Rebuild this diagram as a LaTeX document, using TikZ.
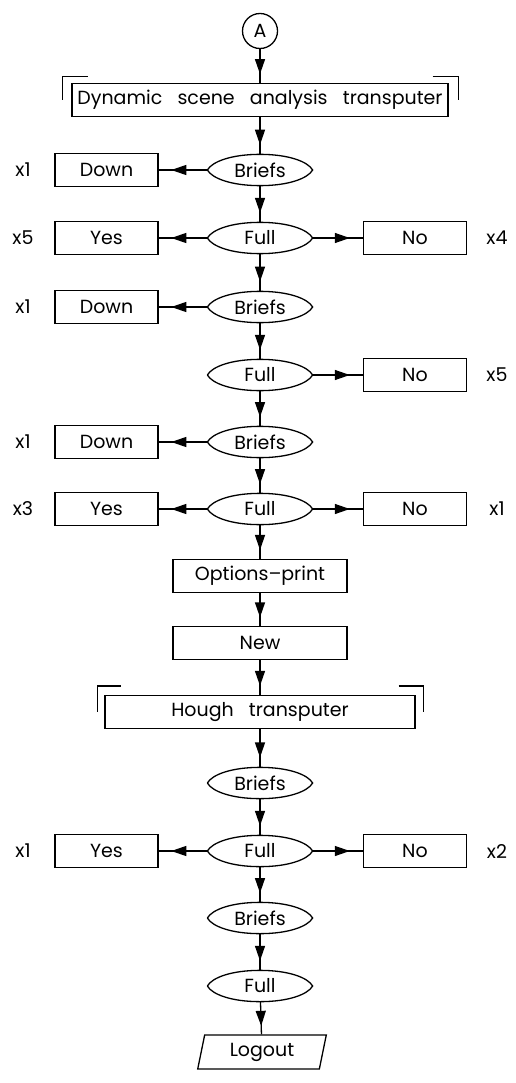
\documentclass[tikz,border=0pt]{standalone}
\usepackage{fontspec}
\setmainfont{Poppins}
\usetikzlibrary{shapes.geometric,arrows.meta,decorations.markings,calc}

% outline of a pointed oval drawn round a named node
\newcommand\lensline[1]{%
  \draw (#1.west) to[out=60,in=180,out distance=10,in distance=28] (#1.north)
        to[out=0,in=120,out distance=28,in distance=10] (#1.east)
        to[out=-120,in=0,out distance=10,in distance=28] (#1.south)
        to[out=180,in=-60,out distance=28,in distance=10] (#1.west);}
% wide gap between words
\newcommand\wgap{\hspace{0.8em}}

\begin{document}
\begin{tikzpicture}[x=1pt,y=1pt, line width=1.3pt,
  every node/.style={font=\fontsize{19}{21}\selectfont},
  box/.style={draw, rectangle, minimum height=33, inner sep=0},
  sidebox/.style={box, minimum width=103},
  lens/.style={rectangle, minimum width=104, minimum height=30, inner sep=0},
  tally/.style={inner sep=0},
  flow/.style={postaction={decorate}, decoration={markings,
      mark=at position 0.74 with {\arrow{Triangle[length=15pt,width=10pt]}}}},
]
\useasboundingbox (0,0) rectangle (515,-1083);

% entry point and first transputer
\node[circle, draw, minimum size=35, inner sep=0] (A) at (260,-31) {A};
\node[box, minimum width=376] (dyn) at (260,-100) {Dynamic\wgap scene\wgap analysis\wgap transputer};

% first group
\node[lens] (b1) at (260,-170) {Briefs}; \lensline{b1}
\node[sidebox] (d1) at (106.5,-170) {Down};
\node[tally] (t1) at (23,-170) {x1};

\node[lens] (f1) at (260,-238) {Full}; \lensline{f1}
\node[sidebox] (y1) at (106.5,-238) {Yes};
\node[sidebox] (n1) at (415,-238) {No};
\node[tally] (t2) at (23,-238) {x5};
\node[tally] (t3) at (497,-238) {x4};

% second group
\node[lens] (b2) at (260,-307) {Briefs}; \lensline{b2}
\node[sidebox] (d2) at (106.5,-307) {Down};
\node[tally] (t4) at (23,-307) {x1};

\node[lens] (f2) at (260,-375) {Full}; \lensline{f2}
\node[sidebox] (n2) at (415,-375) {No};
\node[tally] (t5) at (497,-375) {x5};

% third group
\node[lens] (b3) at (260,-442) {Briefs}; \lensline{b3}
\node[sidebox] (d3) at (106.5,-442) {Down};
\node[tally] (t6) at (23,-442) {x1};

\node[lens] (f3) at (260,-509) {Full}; \lensline{f3}
\node[sidebox] (y3) at (106.5,-509) {Yes};
\node[sidebox] (n3) at (415,-509) {No};
\node[tally] (t7) at (23,-509) {x3};
\node[tally] (t8) at (497,-509) {x1};

% printing and the Hough transputer
\node[box, minimum width=174] (opt) at (260,-576) {Options--print};
\node[box, minimum width=174] (new) at (260,-643) {New};
\node[box, minimum width=310] (hough) at (260,-712) {Hough\wgap transputer};

\node[lens] (b4) at (260,-783) {Briefs}; \lensline{b4}
\node[lens] (f4) at (260,-851) {Full}; \lensline{f4}
\node[sidebox] (y4) at (106.5,-851) {Yes};
\node[sidebox] (n4) at (415,-851) {No};
\node[tally] (t9) at (23,-851) {x1};
\node[tally] (t10) at (497,-851) {x2};

\node[lens] (b5) at (260,-918) {Briefs}; \lensline{b5}
\node[lens] (f5) at (260,-986) {Full}; \lensline{f5}
\node[draw, trapezium, trapezium left angle=78, trapezium right angle=102,
      trapezium stretches=true, minimum width=129, minimum height=34, inner sep=0]
      (out) at (262,-1052) {Logout};

% corner brackets marking the transputers
\draw ($(dyn.north west)+(-9,-17)$) -- ($(dyn.north west)+(-9,6)$) -- ($(dyn.north west)+(17,6)$);
\draw ($(dyn.north east)+(-16,6)$) -- ($(dyn.north east)+(10,6)$) -- ($(dyn.north east)+(10,-17)$);
\draw ($(hough.north west)+(-7,-17)$) -- ($(hough.north west)+(-7,9)$) -- ($(hough.north west)+(17,9)$);
\draw ($(hough.north east)+(-17,9)$) -- ($(hough.north east)+(8,9)$) -- ($(hough.north east)+(8,-17)$);

% connectors
\draw[flow] (A) -- (dyn);
\draw[flow] (dyn) -- (b1);
\draw[flow] (b1) -- (d1);
\draw[flow] (b1) -- (f1);
\draw[flow] (f1) -- (y1);
\draw[flow] (f1) -- (n1);
\draw[flow] (f1) -- (b2);
\draw[flow] (b2) -- (d2);
\draw[flow] (b2) -- (f2);
\draw[flow] (f2) -- (n2);
\draw[flow] (f2) -- (b3);
\draw[flow] (b3) -- (d3);
\draw[flow] (b3) -- (f3);
\draw[flow] (f3) -- (y3);
\draw[flow] (f3) -- (n3);
\draw[flow] (f3) -- (opt);
\draw[flow] (opt) -- (new);
\draw[flow] (new) -- (hough);
\draw[flow] (hough) -- (b4);
\draw[flow] (b4) -- (f4);
\draw[flow] (f4) -- (y4);
\draw[flow] (f4) -- (n4);
\draw[flow] (f4) -- (b5);
\draw[flow] (b5) -- (f5);
\draw[flow] (f5) -- (out);
\end{tikzpicture}
\end{document}
